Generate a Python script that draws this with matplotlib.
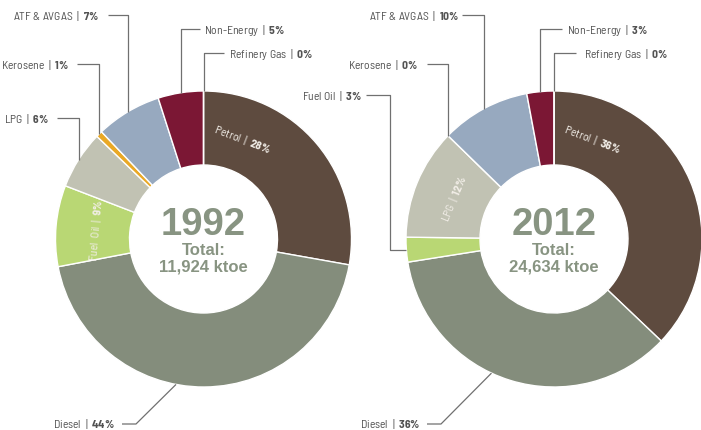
import matplotlib
matplotlib.use("Agg")
import matplotlib.pyplot as plt
import numpy as np

# fuel shares (wedge sizes) and the printed percentages
fuels = ["Petrol", "Diesel", "Fuel Oil", "LPG", "Kerosene", "ATF & AVGAS", "Non-Energy", "Refinery Gas"]
colors = ["#5e4b3f", "#848d7c", "#b9d774", "#c1c2b3", "#e9a825", "#97a9bf", "#7b1734", "#9a9a9a"]
share_1992 = [27.8, 44.2, 8.85, 6.35, 0.7, 7.15, 4.95, 0.0]
label_1992 = [28, 44, 9, 6, 1, 7, 5, 0]
share_2012 = [37.1, 35.4, 2.7, 12.1, 0.0, 9.75, 2.95, 0.0]
label_2012 = [36, 36, 3, 12, 0, 10, 3, 0]
years = ["1992", "2012"]
totals = ["11,924", "24,634"]

label_font = "Barlow Semi Condensed"
plt.rcParams["font.family"] = [label_font, "DejaVu Sans"]
plt.rcParams["mathtext.fontset"] = "custom"
plt.rcParams["mathtext.rm"] = label_font
plt.rcParams["mathtext.bf"] = label_font + ":bold"

W, H = 701, 431
R, RING = 148, 74
centers = [(203.5, 240), (554, 240)]
LINE = "#707070"
TXT = "#525252"
CENTER_COL = "#889482"
FS = 8.4


def label(name, value, gap=" "):
    # plain name, bold percentage (spaces around the bar get squeezed, so doubled)
    return name.replace(" ", gap) + r"  |  $\mathbf{" + str(value) + r"\%}$"


# leader paths in pixel coords; None = take the coordinate from the wedge point
outside = [
    {
        "ATF & AVGAS": (None, [(None, 16), (108, 16)], (99, 16), "right"),
        "Non-Energy": (None, [(None, 30), (200, 30)], (204, 30), "left"),
        "Refinery Gas": (None, [(None, 54), (224, 54)], (229, 54), "left"),
        "Kerosene": (None, [(None, 65), (77, 65)], (69, 65), "right"),
        "LPG": (None, [(None, 119), (57, 119)], (49, 119), "right"),
        "Diesel": (190.7, [(136, 425), (122, 425)], (115, 424), "right"),
    },
    {
        "ATF & AVGAS": (None, [(None, 16), (462, 16)], (459, 16), "right"),
        "Non-Energy": (None, [(None, 30), (562, 30)], (567, 30), "left"),
        "Refinery Gas": (None, [(None, 54), (576, 54)], (584, 54), "left"),
        "Kerosene": (None, [(None, 65), (427, 65)], (418, 65), "right"),
        "Fuel Oil": (None, [(390, None), (390, 96), (366, 96)], (362, 96), "right"),
        "Diesel": (205, [(441, 425), (427, 425)], (420, 424), "right"),
    },
]
inside = [{"Petrol": 21, "Fuel Oil": None}, {"Petrol": 21, "LPG": None}]

fig = plt.figure(figsize=(W / 100, H / 100), dpi=100)
ax = fig.add_axes([0, 0, 1, 1])

for k, (shares, pcts) in enumerate([(share_1992, label_1992), (share_2012, label_2012)]):
    cx, cy = centers[k]
    # y axis is flipped below, so counterclock + start -90 runs clockwise from the top
    ax.pie(shares, colors=colors, radius=R, center=(cx, cy), startangle=-90, counterclock=True,
           wedgeprops=dict(width=RING, edgecolor="white", linewidth=1.0))

    total = float(sum(shares))
    edges = np.concatenate([[0], np.cumsum(shares)]) / total * 360
    mids = {f: (edges[i] + edges[i + 1]) / 2 for i, f in enumerate(fuels)}
    pct = dict(zip(fuels, pcts))

    for f, (ang, path, (tx, ty), ha) in outside[k].items():
        th = np.radians(mids[f] if ang is None else ang)
        px, py = cx + R * np.sin(th), cy - R * np.cos(th)
        xs, ys = [px], [py]
        for (x, y) in path:
            xs.append(px if x is None else x)
            ys.append(py if y is None else y)
        ax.plot(xs, ys, color=LINE, lw=0.9, solid_capstyle="butt")
        ax.text(tx, ty, label(f, pct[f]), ha=ha, va="center", fontsize=FS, color=TXT)

    for f, ang in inside[k].items():
        a = mids[f] if ang is None else ang
        th = np.radians(a)
        rr = R - RING / 2 - 3
        ax.text(cx + rr * np.sin(th), cy - rr * np.cos(th), label(f, pct[f], gap="  "),
                rotation=-a, rotation_mode="anchor", ha="center", va="center",
                fontsize=FS, color="#f2eee8")

    ax.text(cx, 235, years[k], ha="center", va="baseline", fontsize=27.5, weight="bold",
            family="Liberation Sans", color=CENTER_COL)
    ax.text(cx, 255, "Total:", ha="center", va="baseline", fontsize=12, weight="bold",
            family="Liberation Sans", color=CENTER_COL)
    ax.text(cx, 272, totals[k] + " ktoe", ha="center", va="baseline", fontsize=12, weight="bold",
            family="Liberation Sans", color=CENTER_COL)

ax.set_xlim(0, W)
ax.set_ylim(H, 0)
ax.set_aspect("equal")
ax.axis("off")

fig.savefig("out.png", dpi=100)
